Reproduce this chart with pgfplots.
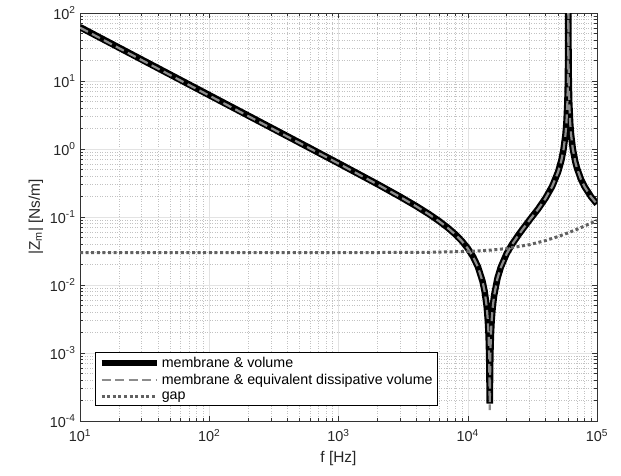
\documentclass[border=0pt]{standalone}
\usepackage{pgfplots}
\pgfplotsset{compat=1.18}
\usepackage{pgfplotstable}
\usepackage{fontspec}
\setmainfont{Liberation Sans}

\pgfplotstableread{
f z
10 62
20 31
50 12.4
100 6.2
200 3.1
500 1.2386
1000 0.6173
2000 0.3047
3000 0.19867
4000 0.14432
5000 0.11062
6000 0.08722
7000 0.06971
8000 0.05585
9000 0.04441
10000 0.03466
11000 0.02611
12000 0.01844
13000 0.011432
13500 0.008125
14000 0.004927
14300 0.003054
14500 0.001822
14650 0.000908
14800 0.00018
14950 0.000899
15100 0.001796
15300 0.002978
15600 0.004732
16000 0.007039
17000 0.012665
18000 0.018137
20000 0.0290
22000 0.0396
25000 0.0565
30000 0.090
35000 0.131
40000 0.190
45000 0.282
50000 0.46
53000 0.68
55000 0.97
57000 1.62
58000 2.42
59000 4.8
59500 9.6
59800 24
60000 500
60200 24
60500 9.62
61000 4.835
62000 2.4417
63000 1.6437
65000 1.0048
68000 0.6446
70000 0.5242
75000 0.3627
80000 0.2812
90000 0.1983
100000 0.15573
}\membrane

\pgfplotstableread{
f z
10 61
20 30.5
50 12.2
100 6.1
200 3.05
500 1.225
1000 0.611
2000 0.3020
3000 0.19700
4000 0.14320
5000 0.10980
6000 0.08660
7000 0.06925
8000 0.05550
9000 0.04415
10000 0.03446
11000 0.02597
12000 0.01834
13000 0.011370
13500 0.008080
14000 0.004900
14300 0.003040
14500 0.001812
14650 0.000903
14800 0.000145
14950 0.000894
15100 0.001786
15300 0.002962
15600 0.004706
16000 0.007000
17000 0.012600
18000 0.018050
20000 0.0288
22000 0.0394
25000 0.0562
30000 0.0895
35000 0.1303
40000 0.189
45000 0.281
50000 0.458
53000 0.677
55000 0.965
57000 1.61
58000 2.41
59000 4.78
59500 9.55
59800 23.9
60000 500
60200 23.9
60500 9.58
61000 4.81
62000 2.43
63000 1.636
65000 1.000
68000 0.6415
70000 0.5217
75000 0.3610
80000 0.2800
90000 0.1975
100000 0.1550
}\equivalent

\pgfplotstableread{
f z
10 0.0300
100 0.0300
1000 0.03001
2000 0.03005
5000 0.03029
10000 0.03115
15000 0.03254
20000 0.03438
30000 0.03918
40000 0.04504
50000 0.05161
60000 0.05865
70000 0.06601
80000 0.07359
90000 0.08133
100000 0.0892
}\gap

\begin{document}
\begin{tikzpicture}
\begin{axis}[
  xmode=log, ymode=log, log basis x=10, log basis y=10,
  scale only axis, width=517bp, height=408bp,
  xmin=10, xmax=1e5, ymin=1e-4, ymax=1e2,
  grid=both,
  major grid style={black!11, line width=0.5bp},
  minor grid style={black!24, line width=0.5bp, dotted},
  tick align=inside, xtick pos=both, ytick pos=both,
  major tick length=5bp, minor tick length=3bp,
  every tick/.style={black!80, line width=0.5bp},
  axis line style={black!80, line width=0.6bp},
  tick label style={font=\fontsize{14.5}{16}\selectfont, text=black!85},
  xticklabel style={yshift=-5bp},
  yticklabel style={xshift=-1bp},
  xticklabel={10\textsuperscript{\pgfmathtruncatemacro\e{round(\tick)}\e}},
  yticklabel={10\textsuperscript{\pgfmathtruncatemacro\e{round(\tick)}\e}},
  xlabel={f [Hz]}, ylabel={|Z\textsubscript{m}| [Ns/m]},
  label style={font=\fontsize{15.5}{17}\selectfont, text=black!85},
  xlabel style={yshift=-3bp},
  legend cell align=left,
  legend style={at={(0.029,0.037)}, anchor=south west, draw=black, line width=0.6bp,
    font=\fontsize{14.3}{16}\selectfont, row sep=1.5bp, inner xsep=3bp, inner ysep=3bp},
  legend image code/.code={\draw[#1] (0bp,0bp) -- (55bp,0bp);},
]
\addplot[black, line width=6.5bp] table[x=f, y=z] {\membrane};
\addlegendentry{membrane \& volume}
\addplot[black!45, line width=2.2bp, dash pattern=on 9bp off 4.5bp] table[x=f, y=z] {\equivalent};
\addlegendentry{membrane \& equivalent dissipative volume}
\addplot[black!62, line width=3bp, dash pattern=on 3bp off 2.6bp] table[x=f, y=z] {\gap};
\addlegendentry{gap}
\coordinate (O) at (rel axis cs:0,0);
\end{axis}
\pgfresetboundingbox
\path[use as bounding box] (O) ++(-80bp,-55bp) rectangle ++(621bp,476bp);
\end{tikzpicture}
\end{document}
